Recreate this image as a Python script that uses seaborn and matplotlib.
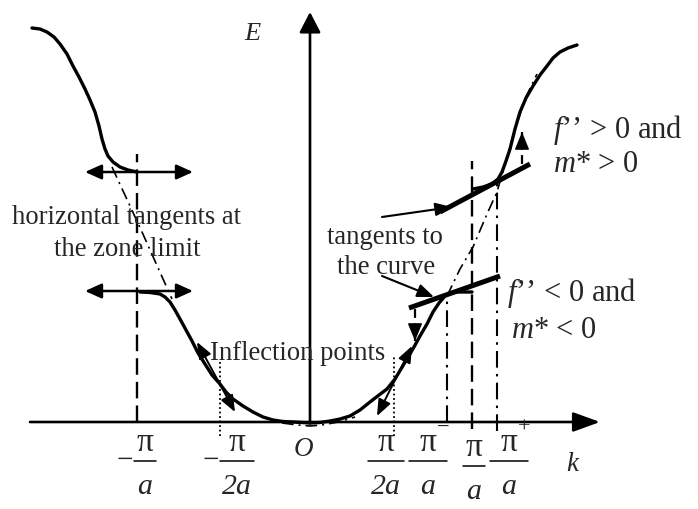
import matplotlib
matplotlib.use("Agg")
import matplotlib.pyplot as plt
import seaborn as sns
import pandas as pd

sns.set_theme(style="white")
plt.rcParams['font.family'] = ['Liberation Serif', 'DejaVu Serif']
plt.rcParams['mathtext.fontset'] = 'custom'
plt.rcParams['mathtext.rm'] = 'Liberation Serif'
plt.rcParams['mathtext.it'] = 'Liberation Serif:italic'

# ---------------- data (diagram units: k horizontal, E vertical) ----------------
upper_left_k = [-278, -270, -263, -256, -250, -243, -237, -231, -225, -220, -215, -211, -208, -205, -202, -197, -190, -182, -173]
upper_left_E = [394, 393, 390, 385, 378, 368, 356, 345, 333, 322, 310, 296, 283, 273, 266, 260, 255, 252, 250]

lower_left_k = [-170, -160, -150, -145, -140, -135, -130, -124, -118, -112, -105, -98, -90, -84, -77, -67, -57, -47, -37, -27, -17, -8, 0]
lower_left_E = [130, 129.5, 128, 125, 120, 112, 103, 92, 81, 69, 58, 47, 38, 30, 23, 16, 10, 5, 2, 0.5, 0, -0.5, -1]

lower_right_k = [0, 10, 20, 30, 40, 50, 60, 69, 77, 85, 91, 97, 104, 110, 117, 123, 129, 135, 141, 147, 155, 162]
lower_right_E = [-1, -0.5, 1, 3, 6, 12, 20, 27, 33, 43, 53, 63, 75, 86, 98, 110, 119, 126, 129, 130, 130, 130]

upper_right_k = [163, 173, 182, 188, 192, 196, 200, 205, 210, 216, 223, 230, 237, 243, 250, 258, 267]
upper_right_E = [233, 235, 238, 243, 250, 261, 273, 293, 310, 324, 336, 347, 356, 364, 370, 374, 377]

# dash-dot extensions of the curve
ext_left_k = [-198, -168, -138]
ext_left_E = [255, 190, 123]
ext_right_k = [137, 150, 163, 177, 187, 195, 205, 215, 227]
ext_right_E = [126, 153, 175, 208, 230, 258, 293, 323, 348]
ext_origin_k = [-28, -12, 0, 12, 28, 45]
ext_origin_E = [-1, -3, -4, -3, 0, 5]

# vertical guide lines
guide_k = [-173, -90, 84, 137, 162, 187]
guide_E0 = [0, -14, -14, 0, -7, -9]
guide_E1 = [268, 63, 66, 126, 261, 238]
guide_style = ['dashed', 'dotted', 'dotted', 'dashdot', 'dashed', 'dashdot']

# horizontal tangents at zone limit (double arrows)
htan_E = [250, 131]
htan_k0 = -225
htan_k1 = -117

# tangents at inflection points (double arrows)
infl_k0 = [-113, 67]
infl_E0 = [80, 6]
infl_k1 = [-75, 102]
infl_E1 = [10, 76]

# thick tangents
thick_k0 = [99, 130]
thick_E0 = [114, 210]
thick_k1 = [190, 220]
thick_E1 = [146, 258]

# label pointer arrows
ptr_k0 = [72, 72]
ptr_E0 = [146, 205]
ptr_k1 = [124, 142]
ptr_E1 = [125, 215]

# dashed vertical arrows (curvature direction)
darr_k = [105, 212]
darr_E0 = [113, 258]
darr_E1 = [81, 290]

# tick labels
tick_k = [-165, -73, 76, 118, 164, 199]
tick_sign = ['−', '−', '', '', '', '']
tick_sup = ['', '', '', '−', '', '+']
tick_den = ['a', '2a', '2a', 'a', 'a', 'a']
tick_halfw = [11, 17, 18, 19, 11, 19]
tick_drop = [0, 0, 0, 0, 5, 0]

# ---------------- figure ----------------
fig = plt.figure(figsize=(6.98, 5.10), dpi=100)
ax = fig.add_axes([0, 0, 1, 1])
ax.set_xlim(-310, 388)
ax.set_ylim(-87, 423)
ax.axis('off')

K = 'black'
for kk, ee in [(upper_left_k, upper_left_E), (lower_left_k, lower_left_E),
               (lower_right_k, lower_right_E), (upper_right_k, upper_right_E)]:
    df = pd.DataFrame({'k': kk, 'E': ee})
    sns.lineplot(data=df, x='k', y='E', sort=False, estimator=None, ax=ax,
                 color=K, lw=2.4, solid_capstyle='round')

dd = (0, (7, 3, 1.2, 3))
ax.plot(ext_left_k, ext_left_E, color=K, lw=1.2, linestyle=dd)
ax.plot(ext_right_k, ext_right_E, color=K, lw=1.2, linestyle=dd)
ax.plot(ext_origin_k, ext_origin_E, color=K, lw=1.2, linestyle=dd)

styles = {'dashed': (0, (7, 3)), 'dotted': (0, (1, 1.5)), 'dashdot': (0, (8, 3, 1.2, 3))}
widths = {'dashed': 1.7, 'dotted': 1.3, 'dashdot': 1.5}
for k, e0, e1, st in zip(guide_k, guide_E0, guide_E1, guide_style):
    ax.plot([k, k], [e0, e1], color=K, lw=widths[st], linestyle=styles[st])

# axes with arrowheads
ax.annotate('', xy=(290, 0), xytext=(-280, 0),
            arrowprops=dict(arrowstyle='-|>,head_length=1.65,head_width=0.6', lw=1.9,
                            color=K, shrinkA=0, shrinkB=0, mutation_scale=10))
ax.annotate('', xy=(0, 410), xytext=(0, 0),
            arrowprops=dict(arrowstyle='-|>,head_length=1.25,head_width=0.65', lw=1.9,
                            color=K, shrinkA=0, shrinkB=0, mutation_scale=10))

# horizontal tangents
for e in htan_E:
    ax.annotate('', xy=(htan_k1, e), xytext=(htan_k0, e),
                arrowprops=dict(arrowstyle='<|-|>,head_length=1.0,head_width=0.45', lw=1.8,
                                color=K, shrinkA=0, shrinkB=0, mutation_scale=10))

# inflection tangents
for a0, b0, a1, b1 in zip(infl_k0, infl_E0, infl_k1, infl_E1):
    ax.annotate('', xy=(a1, b1), xytext=(a0, b0),
                arrowprops=dict(arrowstyle='<|-|>,head_length=1.0,head_width=0.4', lw=1.4,
                                color=K, shrinkA=0, shrinkB=0, mutation_scale=10))

# thick tangents
for a0, b0, a1, b1 in zip(thick_k0, thick_E0, thick_k1, thick_E1):
    ax.plot([a0, a1], [b0, b1], color=K, lw=3.6, solid_capstyle='butt')

# pointer arrows
for a0, b0, a1, b1 in zip(ptr_k0, ptr_E0, ptr_k1, ptr_E1):
    ax.annotate('', xy=(a1, b1), xytext=(a0, b0),
                arrowprops=dict(arrowstyle='-|>,head_length=1.0,head_width=0.4', lw=1.5,
                                color=K, shrinkA=0, shrinkB=0, mutation_scale=10))

# dashed vertical arrows
for k, e0, e1 in zip(darr_k, darr_E0, darr_E1):
    ax.plot([k, k], [e0, e1], color=K, lw=1.6, linestyle=(0, (4, 2.5)))
    d = 1 if e1 > e0 else -1
    ax.annotate('', xy=(k, e1), xytext=(k, e1 - d * 12),
                arrowprops=dict(arrowstyle='-|>,head_length=1.1,head_width=0.45', lw=1.0,
                                color=K, shrinkA=0, shrinkB=0, mutation_scale=10))

# ---------------- text ----------------
fs = 19.2
ax.text(-58, 389, 'E', fontsize=19, style='italic', ha='center', va='center')
ax.text(262, -42, 'k', fontsize=19.5, style='italic', ha='center', va='center')
ax.text(-7, -27, 'O', fontsize=19.5, style='italic', ha='center', va='center')

ax.text(-183, 205, 'horizontal tangents at', fontsize=fs, ha='center', va='center')
ax.text(-183, 174, 'the zone limit', fontsize=fs, ha='center', va='center')
ax.text(75, 186, 'tangents to', fontsize=fs, ha='center', va='center')
ax.text(76, 155, 'the curve', fontsize=fs, ha='center', va='center')
ax.text(-100, 70, 'Inflection points', fontsize=fs, ha='left', va='center')

fs2 = 22
ax.text(243, 293, '$f$’’ > 0 and', fontsize=fs2, ha='left', va='center')
ax.text(243, 258, '$m$* > 0', fontsize=fs2, ha='left', va='center')
ax.text(197, 130, '$f$’’ < 0 and', fontsize=fs2, ha='left', va='center')
ax.text(201, 93, '$m$* < 0', fontsize=fs2, ha='left', va='center')

# fraction tick labels
for k, sg, sp, den, hw, dr in zip(tick_k, tick_sign, tick_sup, tick_den, tick_halfw, tick_drop):
    ax.text(k, -20 - dr, 'π', fontsize=24, ha='center', va='center')
    ax.plot([k - hw, k + hw], [-39 - dr, -39 - dr], color=K, lw=1.1)
    ax.text(k, -64 - dr, den, fontsize=21.5, style='italic', ha='center', va='center')
    if sg:
        ax.text(k - hw - 9, -38, sg, fontsize=21, ha='center', va='center')
    if sp:
        ax.text(k + 15, -5, sp, fontsize=16, ha='center', va='center')

fig.savefig('out.png', dpi=100)
